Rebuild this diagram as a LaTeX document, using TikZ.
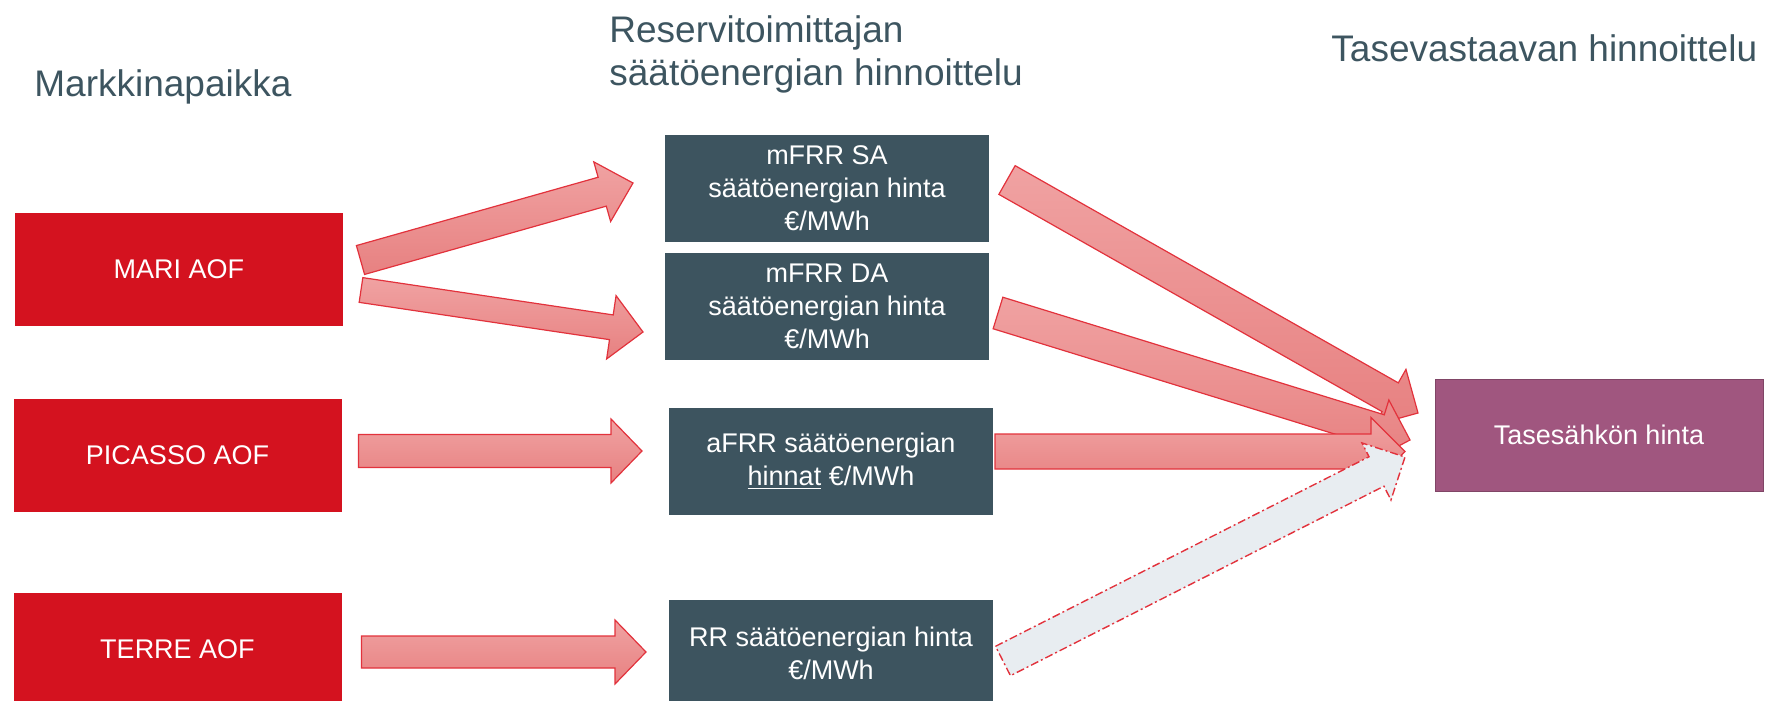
\documentclass[tikz,border=0pt]{standalone}
\usepackage{fontspec}
\setmainfont{Liberation Sans}
\usetikzlibrary{calc}
\definecolor{redbox}{HTML}{D4121F}
\definecolor{darkbox}{HTML}{3D545F}
\definecolor{purplebox}{HTML}{A0567F}
\definecolor{titlecol}{HTML}{3D5560}
\definecolor{arrtop}{HTML}{F0A2A2}
\definecolor{arrbot}{HTML}{E78181}
\definecolor{arrline}{HTML}{E2323C}
\definecolor{grayfill}{HTML}{E8EDF1}
\newcommand{\fatarrow}[6]{%
  \path ($(#3)!#6!(#2)$) coordinate (fab);
  \draw[#1] ($(#2)!#4!90:(#3)$) -- ($(fab)!#4!90:(#3)$) -- ($(fab)!#5!90:(#3)$) -- (#3)
    -- ($(fab)!#5!-90:(#3)$) -- ($(fab)!#4!-90:(#3)$) -- ($(#2)!#4!-90:(#3)$) -- cycle;}
\tikzset{
  box/.style={inner sep=0pt, outer sep=0pt, minimum width=164pt, minimum height=56.5pt,
    text=white, align=center, font=\fontsize{13.5}{16.5}\selectfont},
  redb/.style={box, fill=redbox},
  darkb/.style={box, fill=darkbox, minimum width=162pt, minimum height=53.5pt},
  purpleb/.style={box, fill=purplebox, draw=purplebox!80!black, line width=0.4pt, minimum height=56pt},
  title/.style={inner sep=0pt, anchor=base west, text=titlecol, align=left,
    font=\fontsize{18.5}{21.5}\selectfont},
  fat/.style={draw=arrline, line width=0.6pt, line join=miter, top color=arrtop, bottom color=arrbot},
  ghost/.style={draw=arrline, line width=0.7pt, fill=grayfill,
    dash pattern=on 4pt off 1.5pt on 1pt off 1.5pt}
}
\begin{document}
\begin{tikzpicture}[x=0.5pt,y=-0.5pt]
\useasboundingbox (0,0) rectangle (1768,701);
% titles
\node[title] (h1) at (34,97) {Markkinapaikka};
\node[title] (h2) at (609,86) {Reservitoimittajan\\säätöenergian hinnoittelu};
\node[title] (h3) at (1331,62) {Tasevastaavan hinnoittelu};
% left boxes
\node[redb] (mari) at (179,269.5) {MARI AOF};
\node[redb] (picasso) at (177.5,455) {PICASSO AOF};
\node[redb] (terre) at (177.5,649.5) {TERRE AOF};
% middle boxes
\node[darkb] (sa) at (827,188.5) {mFRR SA\\säätöenergian hinta\\€/MWh};
\node[darkb] (da) at (827,306.5) {mFRR DA\\säätöenergian hinta\\€/MWh};
\node[darkb] (afrr) at (831,461) {aFRR säätöenergian\\\underline{hinnat} €/MWh};
\node[darkb] (rr) at (831,653) {RR säätöenergian hinta\\€/MWh};
% right box
\node[purpleb] (tase) at (1599,435) {Tasesähkön hinta};
% arrow end points
\coordinate (a1t) at ($(mari.east)+(17.5,-9.5)$);
\coordinate (a1h) at ($(sa.west)+(-32,-5.5)$);
\coordinate (a2t) at ($(mari.east)+(18,20.5)$);
\coordinate (a2h) at ($(da.west)+(-22,25.5)$);
\coordinate (a3t) at ($(picasso.east)+(17,-4)$);
\coordinate (a3h) at ($(afrr.west)+(-27,-10)$);
\coordinate (a4t) at ($(terre.east)+(20,2.5)$);
\coordinate (a4h) at ($(rr.west)+(-23,-1)$);
\coordinate (a5t) at ($(sa.east)+(18,-8.5)$);
\coordinate (a5h) at ($(tase.west)+(-17,-22)$);
\coordinate (a6t) at ($(da.east)+(9,6.5)$);
\coordinate (a6h) at ($(tase.west)+(-25,5)$);
\coordinate (a7t) at ($(afrr.east)+(2,-9.5)$);
\coordinate (a7h) at ($(tase.west)+(-30,16.5)$);
\coordinate (a8t) at ($(rr.east)+(10,8)$);
\coordinate (a8h) at ($(tase.west)+(-30,22)$);
% arrows
\fatarrow{fat}{a1t}{a1h}{7.5pt}{15.5pt}{16pt}
\fatarrow{fat}{a2t}{a2h}{6.25pt}{16pt}{16pt}
\fatarrow{fat}{a3t}{a3h}{8.25pt}{16pt}{15.5pt}
\fatarrow{fat}{a4t}{a4h}{8pt}{16pt}{15.5pt}
\fatarrow{fat}{a5t}{a5h}{8.25pt}{16pt}{16pt}
\fatarrow{fat}{a6t}{a6h}{8.25pt}{16pt}{16pt}
\fatarrow{fat}{a7t}{a7h}{8.75pt}{17pt}{17pt}
\fatarrow{ghost}{a8t}{a8h}{8.25pt}{16pt}{16pt}
\end{tikzpicture}
\end{document}
